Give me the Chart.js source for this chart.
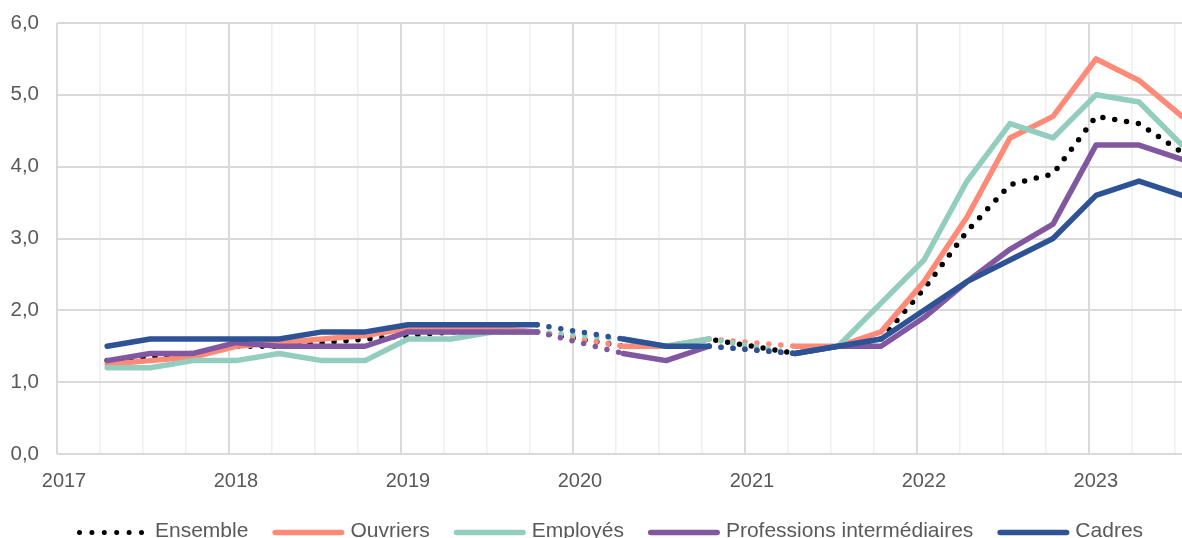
<!DOCTYPE html>
<html lang="fr">
<head>
<meta charset="utf-8">
<title>Évolution des salaires par catégorie</title>
<script src="https://cdn.jsdelivr.net/npm/chart.js@4.4.1/dist/chart.umd.min.js"></script>
<style>
  html, body { margin: 0; padding: 0; background: #ffffff; }
  #wrap { width: 1182px; height: 538px; position: relative; }
</style>
</head>
<body>
<div id="wrap"><canvas id="chart" width="1182" height="538"></canvas></div>
<script>
// Quarter positions, in months counted from January 2017 (Q1 2020 and Q1 2021 are absent)
const months = [3, 6, 9, 12, 15, 18, 21, 24, 27, 30, 33, 39, 42, 45, 51, 54, 57, 60, 63, 66, 69, 72, 75, 78];

const seriesNames = ['Ensemble', 'Ouvriers', 'Employés', 'Professions intermédiaires', 'Cadres'];

const ensemble = [1.3, 1.35, 1.4, 1.5, 1.5, 1.55, 1.6, 1.65, 1.7, 1.7, 1.7, 1.5, 1.5, 1.6, 1.4, 1.5, 1.6, 2.3, 3.1, 3.75, 3.9, 4.7, 4.6, 4.2];
const ouvriers = [1.25, 1.3, 1.35, 1.5, 1.55, 1.6, 1.65, 1.75, 1.75, 1.75, 1.7, 1.5, 1.5, 1.6, 1.5, 1.5, 1.7, 2.4, 3.3, 4.4, 4.7, 5.5, 5.2, 4.7];
const employes = [1.2, 1.2, 1.3, 1.3, 1.4, 1.3, 1.3, 1.6, 1.6, 1.7, 1.7, 1.6, 1.5, 1.6, 1.4, 1.5, 2.1, 2.7, 3.8, 4.6, 4.4, 5.0, 4.9, 4.3];
const professions = [1.3, 1.4, 1.4, 1.55, 1.5, 1.5, 1.5, 1.7, 1.7, 1.7, 1.7, 1.4, 1.3, 1.5, 1.4, 1.5, 1.5, 1.9, 2.4, 2.85, 3.2, 4.3, 4.3, 4.1];
const cadres = [1.5, 1.6, 1.6, 1.6, 1.6, 1.7, 1.7, 1.8, 1.8, 1.8, 1.8, 1.6, 1.5, 1.5, 1.4, 1.5, 1.6, 2.0, 2.4, 2.7, 3.0, 3.6, 3.8, 3.6];

const yTicks = [0, 1, 2, 3, 4, 5, 6];
const yearLabels = ['2017', '2018', '2019', '2020', '2021', '2022', '2023'];

const colors = ['#000000', '#FF8A78', '#92CDBD', '#8158A0', '#2D5296'];
const values = [ensemble, ouvriers, employes, professions, cadres];

const LINE_W = 5.5;
const DOTS = [0, 12];
// points sit at the middle of their month
const toPoints = arr => arr.map((v, i) => ({ x: months[i] + 0.5, y: v }));
const isGap = ctx => (ctx.p1.parsed.x - ctx.p0.parsed.x) > 3.5;

// later series are painted over earlier ones
const datasets = seriesNames.map((name, i) => ({
  label: name,
  data: toPoints(values[i]),
  borderColor: colors[i],
  backgroundColor: colors[i],
  borderWidth: LINE_W,
  borderCapStyle: 'round',
  borderJoinStyle: 'round',
  borderDash: i === 0 ? DOTS : [],
  pointRadius: 0,
  pointHoverRadius: 0,
  tension: 0,
  fill: false,
  order: 10 - i,
  segment: {
    borderDash: ctx => (i === 0 || isGap(ctx)) ? DOTS : [],
    borderCapStyle: () => 'round'
  }
}));

const fontFamily = '"Liberation Sans", Arial, Helvetica, sans-serif';
const textColor = '#595959';

// Legend drawn as a single row below the plot
const rowLegend = {
  id: 'rowLegend',
  afterDraw(chart) {
    const ctx = chart.ctx;
    const y = 532.5;
    let x = 77;
    ctx.save();
    ctx.font = '21px ' + fontFamily;
    ctx.textBaseline = 'middle';
    ctx.textAlign = 'left';
    chart.data.datasets.forEach((ds, i) => {
      ctx.save();
      ctx.strokeStyle = ds.borderColor;
      ctx.lineCap = 'round';
      ctx.beginPath();
      if (i === 0) {
        ctx.lineWidth = 5;
        ctx.setLineDash([0, 12.4]);
        ctx.moveTo(x + 2.5, y);
        ctx.lineTo(x + 2.5 + 62.3, y);
      } else {
        ctx.lineWidth = 5.5;
        ctx.moveTo(x + 2.75, y);
        ctx.lineTo(x + 72 - 2.75, y);
      }
      ctx.stroke();
      ctx.restore();
      const tx = x + 78;
      ctx.fillStyle = textColor;
      ctx.fillText(ds.label, tx, y - 1);
      x = tx + ctx.measureText(ds.label).width + 24;
    });
    ctx.restore();
  }
};

new Chart(document.getElementById('chart'), {
  type: 'line',
  data: { datasets },
  plugins: [rowLegend],
  options: {
    responsive: false,
    animation: false,
    events: [],
    layout: { padding: { top: 23, right: 0, bottom: 47, left: 0 } },
    plugins: {
      legend: { display: false },
      tooltip: { enabled: false }
    },
    scales: {
      x: {
        type: 'linear',
        min: 0,
        max: 78.5,
        afterBuildTicks: scale => {
          const t = [];
          for (let m = 0; m <= 78; m += 3) t.push({ value: m });
          scale.ticks = t;
        },
        afterFit: scale => {
          scale.height = 37;
          scale.paddingLeft = 0;
          scale.paddingRight = 0;
        },
        border: { display: false },
        grid: {
          drawTicks: false,
          color: ctx => (ctx.tick && ctx.tick.value % 12 === 0) ? '#D9D9D9' : '#EFEFEF',
          lineWidth: ctx => (ctx.tick && ctx.tick.value % 12 === 0) ? 2 : 1.6
        },
        ticks: {
          autoSkip: false,
          maxRotation: 0,
          padding: 15,
          labelOffset: 7,
          color: textColor,
          font: { family: fontFamily, size: 20 },
          callback: v => (v % 12 === 0) ? yearLabels[v / 12] : ''
        }
      },
      y: {
        min: 0,
        max: 6,
        afterBuildTicks: scale => { scale.ticks = yTicks.map(v => ({ value: v })); },
        afterFit: scale => {
          scale.width = 57;
          scale.paddingTop = 0;
          scale.paddingBottom = 0;
        },
        border: { display: false },
        grid: {
          drawTicks: false,
          color: '#D9D9D9',
          lineWidth: 2
        },
        ticks: {
          padding: 18,
          color: textColor,
          font: { family: fontFamily, size: 20.5 },
          callback: v => v.toFixed(1).replace('.', ',')
        }
      }
    }
  }
});
</script>
</body>
</html>
